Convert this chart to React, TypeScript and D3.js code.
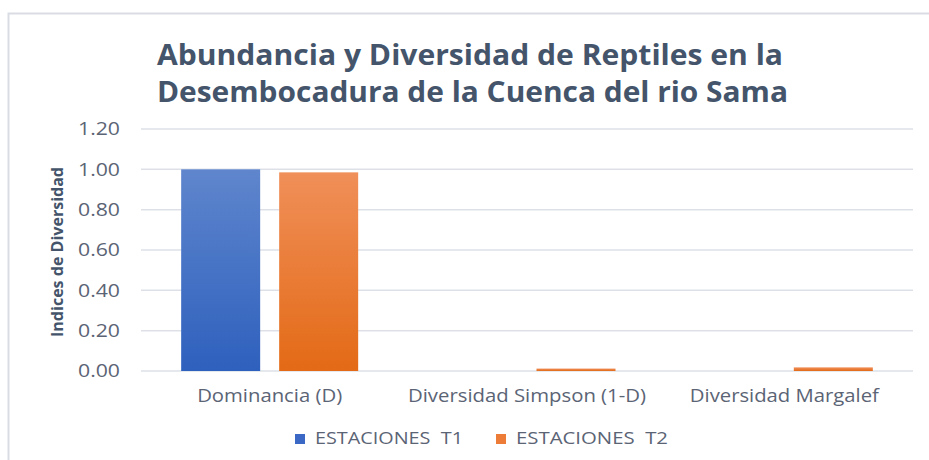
import React, { useEffect, useRef } from "react";
import * as d3 from "d3";

// Chart data
const categories = ["Dominancia (D)", "Diversidad Simpson (1-D)", "Diversidad Margalef"];
const seriesNames = ["ESTACIONES  T1", "ESTACIONES  T2"];
const valuesT1 = [1.0, 0.0, 0.0];
const valuesT2 = [0.985, 0.012, 0.018];
const yTicks = [0, 0.2, 0.4, 0.6, 0.8, 1.0, 1.2];
const titleLines = [
  "Abundancia y Diversidad de Reptiles en la",
  "Desembocadura de la Cuenca del rio Sama",
];
const yTitle = "Indices de Diversidad";

// the reference text is a bit stretched, so widths are pinned
const titleWidths = [626, 631];
const xLabelWidths = [145, 238, 189];
const legendWidths = [148, 152];

const W = 929;
const H = 460;
const FONT = "'Open Sans', 'Noto Sans', sans-serif";

const App = () => {
  const svgRef = useRef<SVGSVGElement>(null);

  useEffect(() => {
    document.body.style.margin = "0";
    const svg = d3.select(svgRef.current);
    svg.selectAll("*").remove();

    const margin = { top: 129, right: 16, bottom: 89, left: 141 };
    const width = W - margin.left - margin.right;
    const height = H - margin.top - margin.bottom;

    // Gradients for bars
    const defs = svg.append("defs");
    const grads = [
      { id: "g-t1", top: "#5f86cd", bottom: "#2e60bd" },
      { id: "g-t2", top: "#f08f59", bottom: "#e36a16" },
    ];
    grads.forEach((g) => {
      const lg = defs
        .append("linearGradient")
        .attr("id", g.id)
        .attr("x1", 0)
        .attr("y1", 0)
        .attr("x2", 0)
        .attr("y2", 1);
      lg.append("stop").attr("offset", "0%").attr("stop-color", g.top);
      lg.append("stop").attr("offset", "100%").attr("stop-color", g.bottom);
    });

    // Background and frame
    svg.append("rect").attr("width", W).attr("height", H).attr("fill", "#ffffff");
    svg
      .append("path")
      .attr("d", `M${W},13.5 H8.5 V${H}`)
      .attr("fill", "none")
      .attr("stroke", "#d9dde3")
      .attr("stroke-width", 2);

    // Title
    titleLines.forEach((line, i) => {
      svg
        .append("text")
        .attr("x", 157)
        .attr("y", 65 + i * 37)
        .attr("fill", "#44546a")
        .attr("textLength", titleWidths[i])
        .attr("lengthAdjust", "spacingAndGlyphs")
        .style("font-family", FONT)
        .style("font-weight", 700)
        .style("font-size", "28px")
        .text(line);
    });

    const g = svg.append("g").attr("transform", `translate(${margin.left},${margin.top})`);

    const x0 = d3.scaleBand().domain(categories).range([0, width]).paddingInner(0).paddingOuter(0);
    const y = d3.scaleLinear().domain([0, 1.2]).range([height, 0]);

    // Gridlines
    g.selectAll(".grid")
      .data(yTicks)
      .enter()
      .append("line")
      .attr("x1", 0)
      .attr("x2", width)
      .attr("y1", (d) => y(d))
      .attr("y2", (d) => y(d))
      .attr("stroke", "#dde1e7")
      .attr("stroke-width", 1.5);

    // Y tick labels
    g.selectAll(".ylab")
      .data(yTicks)
      .enter()
      .append("text")
      .attr("x", -63)
      .attr("y", (d) => y(d))
      .attr("dy", "0.36em")
      .attr("textLength", 42)
      .attr("lengthAdjust", "spacingAndGlyphs")
      .attr("fill", "#5b6475")
      .style("font-family", FONT)
      .style("font-size", "18px")
      .text((d) => d3.format(".2f")(d));

    // Y axis title
    svg
      .append("text")
      .attr("transform", `translate(63,252) rotate(-90)`)
      .attr("x", -85)
      .attr("textLength", 170)
      .attr("lengthAdjust", "spacingAndGlyphs")
      .attr("fill", "#44546a")
      .style("font-family", FONT)
      .style("font-weight", 700)
      .style("font-size", "16px")
      .text(yTitle);

    // Bars
    const bw = x0.bandwidth();
    const barW = 79;
    const gap = 19;
    const series = [valuesT1, valuesT2];
    series.forEach((vals, si) => {
      g.selectAll(`.bar-${si}`)
        .data(categories)
        .enter()
        .append("rect")
        .attr("x", (c) => (x0(c) as number) + bw / 2 + (si === 0 ? -gap / 2 - barW : gap / 2))
        .attr("y", (c, i) => y(vals[i]))
        .attr("width", barW)
        .attr("height", (c, i) => height - y(vals[i]))
        .attr("fill", `url(#g-t${si + 1})`);
    });

    // X labels
    g.selectAll(".xlab")
      .data(categories)
      .enter()
      .append("text")
      .attr("x", (c, i) => (x0(c) as number) + bw / 2 - xLabelWidths[i] / 2)
      .attr("y", height + 31)
      .attr("textLength", (c, i) => xLabelWidths[i])
      .attr("lengthAdjust", "spacingAndGlyphs")
      .attr("fill", "#5b6475")
      .style("font-family", FONT)
      .style("font-size", "18px")
      .text((c) => c);

    // Legend
    const legendX = [295, 496];
    const legendColors = ["#3a68c4", "#ec7c37"];
    seriesNames.forEach((name, i) => {
      svg
        .append("rect")
        .attr("x", legendX[i])
        .attr("y", 434)
        .attr("width", 10)
        .attr("height", 10)
        .attr("fill", legendColors[i]);
      svg
        .append("text")
        .attr("x", legendX[i] + 20)
        .attr("y", 444)
        .attr("fill", "#5b6475")
        .attr("textLength", legendWidths[i])
        .attr("lengthAdjust", "spacingAndGlyphs")
        .attr("xml:space", "preserve")
        .style("white-space", "pre")
        .style("font-family", FONT)
        .style("font-size", "16px")
        .text(name);
    });
  }, []);

  return <svg ref={svgRef} width={W} height={H} style={{ display: "block" }} />;
};

export default App;
